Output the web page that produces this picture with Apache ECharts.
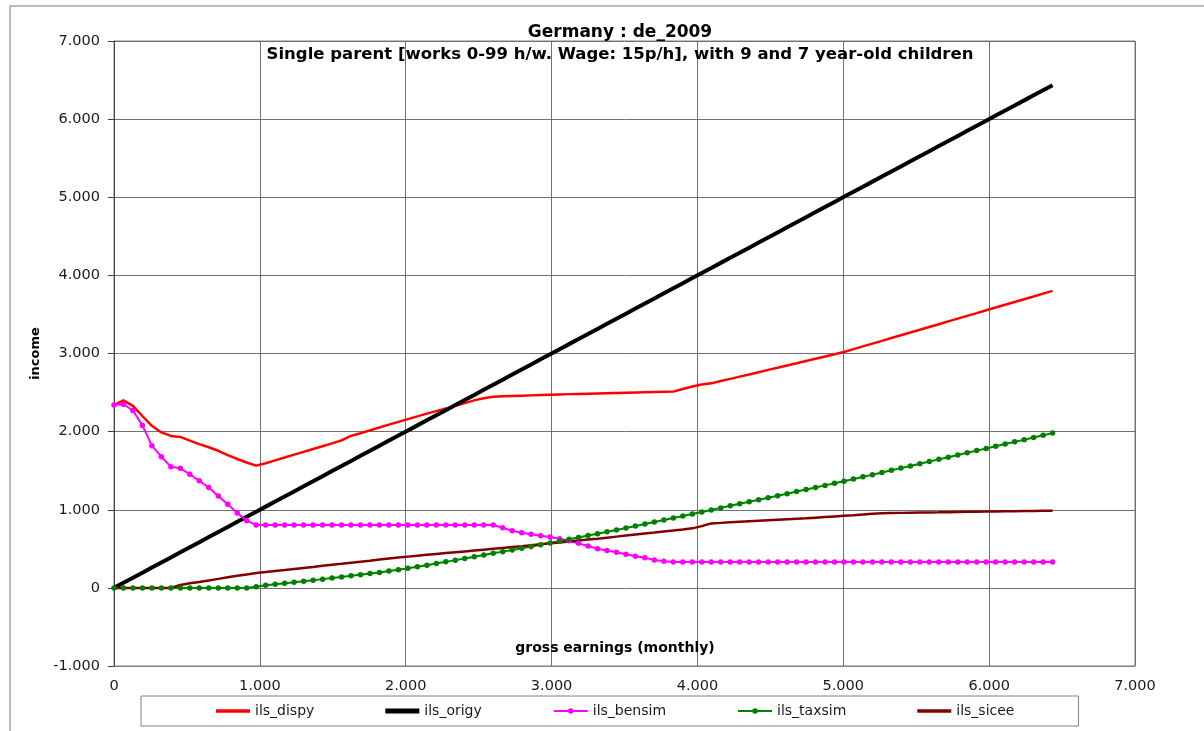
<!DOCTYPE html>
<html>
<head>
<meta charset="utf-8">
<script src="https://cdn.jsdelivr.net/npm/echarts@6/dist/echarts.min.js"></script>
<style>
html,body{margin:0;padding:0;background:#fff;}
#chart{width:1204px;height:731px;}
</style>
</head>
<body>
<div id="chart"></div>
<script>
// gross monthly earnings (0-99 hours/week at 15 per hour)
const earnings = [
0,65,130,195,260,325,390,455,520,585,
650,715,780,845,910,975,1040,1105,1170,1235,
1300,1365,1430,1495,1560,1625,1690,1755,1820,1885,
1950,2015,2080,2145,2210,2275,2340,2405,2470,2535,
2600,2665,2730,2795,2860,2925,2990,3055,3120,3185,
3250,3315,3380,3445,3510,3575,3640,3705,3770,3835,
3900,3965,4030,4095,4160,4225,4290,4355,4420,4485,
4550,4615,4680,4745,4810,4875,4940,5005,5070,5135,
5200,5265,5330,5395,5460,5525,5590,5655,5720,5785,
5850,5915,5980,6045,6110,6175,6240,6305,6370,6435];

const ils_dispy = [
2340,2400,2330,2200,2075,1990,1945,1932,1885,1840,
1800,1755,1700,1650,1605,1565,1596,1632,1668,1705,
1741,1777,1813,1849,1888,1945,1980,2016,2052,2089,
2125,2160,2195,2230,2262,2295,2330,2365,2400,2428,
2445,2452,2456,2460,2464,2468,2472,2476,2480,2483,
2486,2489,2492,2495,2498,2501,2504,2507,2510,2512,
2545,2578,2603,2618,2647,2675,2704,2732,2761,2790,
2818,2847,2875,2904,2933,2961,2990,3020,3056,3091,
3127,3162,3198,3233,3269,3304,3340,3375,3411,3446,
3482,3517,3553,3588,3624,3659,3695,3730,3766,3801];

const ils_origy = [
0,65,130,195,260,325,390,455,520,585,
650,715,780,845,910,975,1040,1105,1170,1235,
1300,1365,1430,1495,1560,1625,1690,1755,1820,1885,
1950,2015,2080,2145,2210,2275,2340,2405,2470,2535,
2600,2665,2730,2795,2860,2925,2990,3055,3120,3185,
3250,3315,3380,3445,3510,3575,3640,3705,3770,3835,
3900,3965,4030,4095,4160,4225,4290,4355,4420,4485,
4550,4615,4680,4745,4810,4875,4940,5005,5070,5135,
5200,5265,5330,5395,5460,5525,5590,5655,5720,5785,
5850,5915,5980,6045,6110,6175,6240,6305,6370,6435];

const ils_bensim = [
2340,2350,2270,2080,1820,1680,1550,1530,1455,1370,
1285,1175,1070,960,860,805,805,805,805,805,
805,805,805,805,805,805,805,805,805,805,
805,805,805,805,805,805,805,805,805,805,
805,770,730,705,685,668,650,630,602,570,
535,502,478,455,430,405,385,358,340,330,
330,330,330,330,330,330,330,330,330,330,
330,330,330,330,330,330,330,330,330,330,
330,330,330,330,330,330,330,330,330,330,
330,330,330,330,330,330,330,330,330,330];

const ils_taxsim = [
0,0,0,0,0,0,0,0,0,0,
0,0,0,0,0,15,35,45,58,72,
85,98,112,127,140,155,168,183,197,215,
232,250,270,290,312,333,355,377,398,420,
442,464,486,508,530,553,575,598,622,646,
670,694,718,742,767,792,817,843,868,894,
920,946,972,998,1024,1050,1076,1102,1128,1154,
1180,1206,1233,1259,1286,1312,1339,1366,1393,1421,
1449,1477,1505,1533,1561,1589,1617,1645,1673,1701,
1729,1757,1785,1813,1841,1869,1897,1925,1953,1981];

const ils_sicee = [
0,0,0,0,0,0,0,38,58,75,
95,115,135,155,172,190,202,215,228,242,
255,268,282,295,308,322,335,348,362,375,
388,400,412,423,434,445,456,467,478,489,
500,511,522,533,545,557,570,582,594,606,
618,630,643,656,669,682,695,708,722,735,
748,762,790,825,832,840,847,854,860,866,
872,878,884,890,898,906,914,922,930,940,
950,956,958,960,962,964,966,967,969,971,
973,975,977,978,980,982,984,985,987,988];

const seriesNames = ['ils_dispy','ils_origy','ils_bensim','ils_taxsim','ils_sicee'];
const titleText = 'Germany : de_2009';
const subtitleText = 'Single parent [works 0-99 h/w. Wage: 15p/h], with 9 and 7 year-old children';

function pairs(ys){ return earnings.map((x,i)=>[x, ys[i]]); }
function fmt(v){ return String(v).replace(/\B(?=(\d{3})+(?!\d))/g, '.'); }

const FONT = 'DejaVu Sans';
const chart = echarts.init(document.getElementById('chart'), null, {renderer:'canvas'});
chart.setOption({
  animation: false,
  backgroundColor: '#ffffff',
  textStyle: {fontFamily: FONT},
  graphic: [{
    type: 'rect', silent: true, z: -10,
    shape: {x: 10, y: 6, width: 1300, height: 900},
    style: {fill: null, stroke: '#a6a6a6', lineWidth: 1.5}
  }],
  title: {
    text: titleText,
    subtext: subtitleText,
    left: 615, top: 19, textAlign: 'center',
    itemGap: 5,
    textStyle: {fontFamily: FONT, fontSize: 17, fontWeight: 'bold', color: '#000'},
    subtextStyle: {fontFamily: FONT, fontSize: 16.5, fontWeight: 'bold', color: '#000'}
  },
  grid: {left: 114, right: 69, top: 41, bottom: 65, show: true, borderColor: '#808080', borderWidth: 1, backgroundColor: 'transparent'},
  legend: {
    data: [
      {name: 'ils_dispy', icon: 'path://M0,0H34V3.5H0Z'},
      {name: 'ils_origy', icon: 'path://M0,0H34V5H0Z'},
      {name: 'ils_bensim'},
      {name: 'ils_taxsim'},
      {name: 'ils_sicee', icon: 'path://M0,0H34V3.5H0Z'}
    ],
    left: 141, top: 696,
    orient: 'horizontal',
    padding: [8, 64, 8, 75],
    borderColor: '#808080', borderWidth: 1,
    symbolKeepAspect: true,
    itemWidth: 34, itemHeight: 7, itemGap: 71,
    textStyle: {fontFamily: FONT, fontSize: 14, color: '#1a1a1a'}
  },
  xAxis: {
    type: 'value', min: 0, max: 7000, interval: 1000,
    name: 'gross earnings (monthly)',
    nameLocation: 'middle', nameGap: -25,
    nameTextStyle: {fontFamily: FONT, fontSize: 14, fontWeight: 'bold', color: '#000', padding: [0, 19, 0, 0]},
    axisLine: {onZero: false, lineStyle: {color: '#808080', width: 1}},
    axisTick: {show: false},
    axisLabel: {formatter: fmt, fontFamily: FONT, fontSize: 14.5, color: '#1a1a1a', margin: 13},
    splitLine: {show: true, lineStyle: {color: '#707070', width: 1}}
  },
  yAxis: {
    type: 'value', min: -1000, max: 7000, interval: 1000,
    name: 'income',
    nameLocation: 'middle', nameGap: 72,
    nameTextStyle: {fontFamily: FONT, fontSize: 13, fontWeight: 'bold', color: '#000'},
    axisLine: {show: true, lineStyle: {color: '#404040', width: 1}},
    axisTick: {show: true, length: 6, lineStyle: {color: '#404040'}},
    axisLabel: {formatter: fmt, fontFamily: FONT, fontSize: 14.5, color: '#1a1a1a', margin: 14},
    splitLine: {show: true, lineStyle: {color: '#707070', width: 1}}
  },
  series: [
    {name: 'ils_dispy', type: 'line', data: pairs(ils_dispy), symbol: 'none',
     lineStyle: {color: '#ff0000', width: 2.5}, itemStyle: {color: '#ff0000'}},
    {name: 'ils_origy', type: 'line', data: pairs(ils_origy), symbol: 'none',
     lineStyle: {color: '#000000', width: 4}, itemStyle: {color: '#000000'}},
    {name: 'ils_bensim', type: 'line', data: pairs(ils_bensim), symbol: 'circle', symbolSize: 5.5,
     showSymbol: true, showAllSymbol: true,
     lineStyle: {color: '#ff00ff', width: 2}, itemStyle: {color: '#ff00ff'}},
    {name: 'ils_taxsim', type: 'line', data: pairs(ils_taxsim), symbol: 'circle', symbolSize: 5.5,
     showSymbol: true, showAllSymbol: true,
     lineStyle: {color: '#008000', width: 2}, itemStyle: {color: '#008000'}},
    {name: 'ils_sicee', type: 'line', data: pairs(ils_sicee), symbol: 'none',
     lineStyle: {color: '#800000', width: 2.5}, itemStyle: {color: '#800000'}}
  ]
});
</script>
</body>
</html>
